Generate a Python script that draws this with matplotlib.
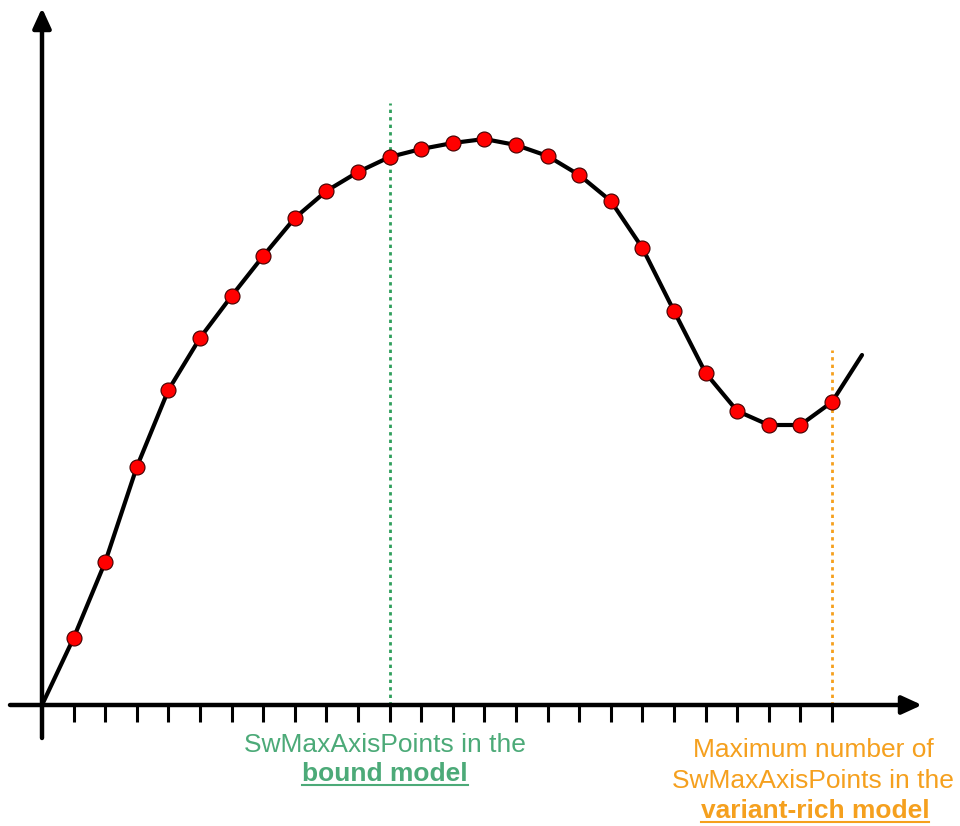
import matplotlib
matplotlib.use("Agg")
import matplotlib.pyplot as plt
import numpy as np

# curve samples at each tick position (tick index, height above x-axis)
tick_idx = np.arange(1, 26)
heights = [67, 143, 238, 315, 367, 409, 449, 487, 514, 533, 548, 556, 562,
           566, 560, 549, 530, 504, 457, 394, 332, 294, 280, 280, 303]
curve_start = (0.0, 0.0)
curve_end = (25.95, 350)

bound_idx = 11
variant_idx = 25
bound_color = "#2e9e5b"
bound_text_color = "#4caa78"
variant_color = "#f5a01e"

green_lines = ["SwMaxAxisPoints in the", "bound model"]
orange_lines = ["Maximum number of", "SwMaxAxisPoints in the", "variant-rich model"]

plt.rcParams['font.family'] = ['Liberation Sans', 'DejaVu Sans']

fig = plt.figure(figsize=(9.6, 8.26), dpi=100)
ax = fig.add_axes([0, 0, 1, 1])
step = 31.6
ax.set_xlim(-42 / step, (960 - 42) / step)
ax.set_ylim(705 - 826, 705)
ax.axis("off")


def px(x):
    return (x - 42) / step


# axes with arrow heads
ax.annotate("", xy=(px(922), 0), xytext=(px(10), 0),
            arrowprops=dict(arrowstyle="-|>,head_length=1.2,head_width=0.55",
                            lw=3.2, color="black", shrinkA=0, shrinkB=0))
ax.annotate("", xy=(0, 705 - 8), xytext=(0, 705 - 738),
            arrowprops=dict(arrowstyle="-|>,head_length=1.2,head_width=0.55",
                            lw=3.2, color="black", shrinkA=0, shrinkB=0))

# tick marks below the x-axis
ax.vlines(tick_idx, -17, 0, color="black", lw=2.2)

# reference lines
ax.vlines(bound_idx, 0, 705 - 103, color=bound_color, lw=2, linestyles=(0, (1.2, 1.5)))
ax.vlines(variant_idx, 0, 705 - 350, color=variant_color, lw=2, linestyles=(0, (1.2, 1.5)))

# curve and points
cx = [curve_start[0]] + list(tick_idx) + [curve_end[0]]
cy = [curve_start[1]] + heights + [curve_end[1]]
ax.plot(cx, cy, color="black", lw=3.0, solid_capstyle="round",
        solid_joinstyle="round", zorder=3)
ax.plot(tick_idx, heights, "o", color="#ff0000", markeredgecolor="#400000",
        markeredgewidth=0.8, markersize=10.8, zorder=4)

# labels
fs = 19
t1 = ax.text(px(385), 705 - 745, green_lines[0], color=bound_text_color,
             fontsize=fs, ha="center", va="center")
t2 = ax.text(px(385), 705 - 774, green_lines[1], color=bound_text_color,
             fontsize=fs, ha="center", va="center", fontweight="bold")
o1 = ax.text(px(813), 705 - 750, orange_lines[0], color=variant_color,
             fontsize=fs, ha="center", va="center")
o2 = ax.text(px(813), 705 - 781, orange_lines[1], color=variant_color,
             fontsize=fs, ha="center", va="center")
o3 = ax.text(px(815), 705 - 811, orange_lines[2], color=variant_color,
             fontsize=fs, ha="center", va="center", fontweight="bold")

# underline the bold parts
fig.canvas.draw()
inv = ax.transData.inverted()
for t, c in [(t2, bound_text_color), (o3, variant_color)]:
    bb = t.get_window_extent()
    (x0, y0), (x1, _) = inv.transform([(bb.x0, bb.y0), (bb.x1, bb.y0)])
    ax.plot([x0, x1], [y0 + 1, y0 + 1], color=c, lw=1.5)

fig.savefig("out.png", dpi=100, facecolor="white")
